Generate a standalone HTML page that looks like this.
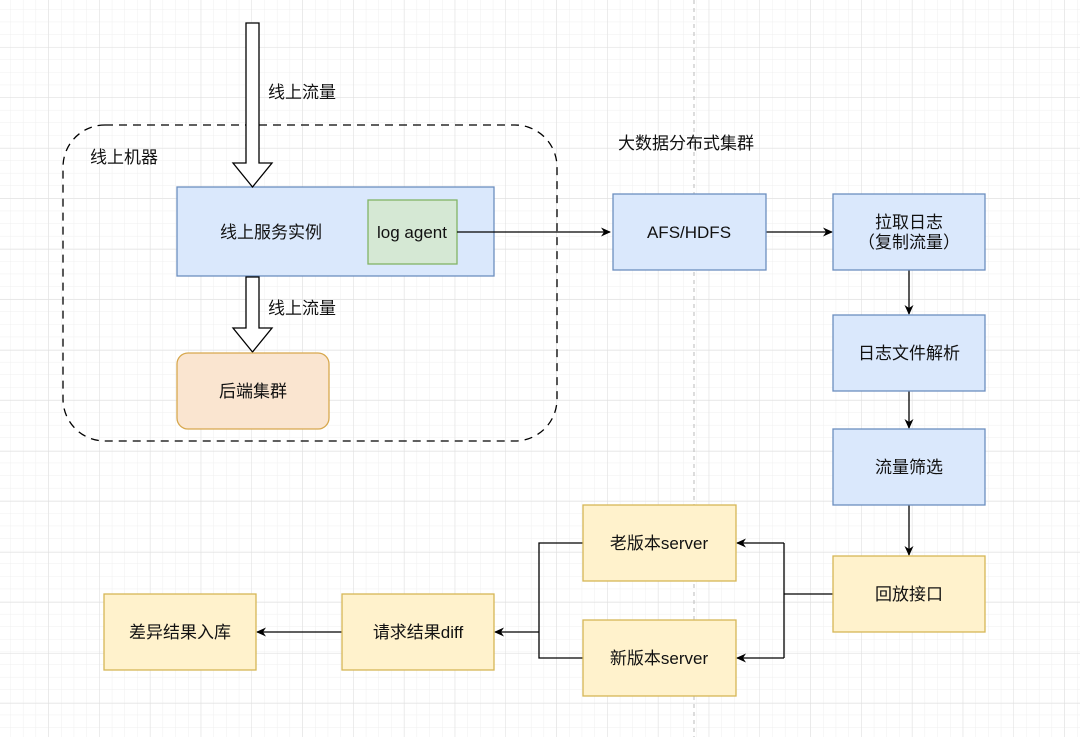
<!DOCTYPE html>
<html><head><meta charset="utf-8"><style>
html,body{margin:0;padding:0;background:#fff}
svg{display:block}
text{font-family:"Liberation Sans","Noto Sans CJK SC",sans-serif;font-size:17px;fill:#111}
</style></head><body>
<svg width="1080" height="737" viewBox="0 0 1080 737" xmlns="http://www.w3.org/2000/svg">
<defs>
<pattern id="minor" x="-2" y="-3" width="12.7" height="12.6" patternUnits="userSpaceOnUse">
<path d="M12.7 0V12.6M0 12.6H12.7" fill="none" stroke="#efefef" stroke-width="1"/>
</pattern>
<pattern id="major" x="-2" y="-3" width="50.8" height="50.5" patternUnits="userSpaceOnUse">
<path d="M50.8 0V50.5M0 50.5H50.8" fill="none" stroke="#dedede" stroke-width="1"/>
</pattern>
<marker id="ah" markerWidth="10" markerHeight="10" refX="9" refY="5" orient="auto" markerUnits="userSpaceOnUse">
<path d="M0,0.5 L10,5 L0,9.5 L3,5 Z" fill="#000"/>
</marker>
</defs>
<rect width="1080" height="737" fill="url(#minor)"/>
<rect width="1080" height="737" fill="url(#major)"/>
<line x1="694" y1="0" x2="694" y2="737" stroke="#bbb" stroke-dasharray="4 4"/>

<rect x="63" y="125" width="494" height="316" rx="42" fill="none" stroke="#000" stroke-width="1.3" stroke-dasharray="8 6"/>
<text x="90" y="163">线上机器</text>

<rect x="177" y="187" width="317" height="89" fill="#dae8fc" stroke="#6c8ebf" stroke-width="1.3"/>
<text x="271" y="238" text-anchor="middle">线上服务实例</text>
<rect x="368" y="200" width="89" height="64" fill="#d5e8d4" stroke="#82b366" stroke-width="1.3"/>
<text x="412" y="238" text-anchor="middle">log agent</text>

<path d="M246,23 H259 V163 H272 L252.5,187 L233,163 H246 Z" fill="#fff" stroke="#000" stroke-width="1.3"/>
<text x="268" y="98">线上流量</text>
<path d="M246,277 H259 V328 H272 L252.5,352 L233,328 H246 Z" fill="#fff" stroke="#000" stroke-width="1.3"/>
<text x="268" y="314">线上流量</text>

<rect x="177" y="353" width="152" height="76" rx="11" fill="#fae5d0" stroke="#d7a84e" stroke-width="1.3"/>
<text x="253" y="397" text-anchor="middle">后端集群</text>

<text x="618" y="149">大数据分布式集群</text>

<g stroke="#000" stroke-width="1.3" fill="none">
<line x1="457" y1="232" x2="610" y2="232" marker-end="url(#ah)"/>
<line x1="766" y1="232" x2="832" y2="232" marker-end="url(#ah)"/>
<line x1="909" y1="270" x2="909" y2="314" marker-end="url(#ah)"/>
<line x1="909" y1="391" x2="909" y2="428" marker-end="url(#ah)"/>
<line x1="909" y1="505" x2="909" y2="555" marker-end="url(#ah)"/>
<line x1="833" y1="594" x2="784" y2="594"/>
<path d="M784,543 V658"/>
<line x1="784" y1="543" x2="737" y2="543" marker-end="url(#ah)"/>
<line x1="784" y1="658" x2="737" y2="658" marker-end="url(#ah)"/>
<path d="M583,543 H539 V658 H583"/>
<line x1="539" y1="632" x2="495" y2="632" marker-end="url(#ah)"/>
<line x1="342" y1="632" x2="257" y2="632" marker-end="url(#ah)"/>
</g>

<g stroke-width="1.3">
<rect x="613" y="194" width="153" height="76" fill="#dae8fc" stroke="#6c8ebf"/>
<rect x="833" y="194" width="152" height="76" fill="#dae8fc" stroke="#6c8ebf"/>
<rect x="833" y="315" width="152" height="76" fill="#dae8fc" stroke="#6c8ebf"/>
<rect x="833" y="429" width="152" height="76" fill="#dae8fc" stroke="#6c8ebf"/>
<rect x="833" y="556" width="152" height="76" fill="#fff2cc" stroke="#d6b656"/>
<rect x="583" y="505" width="153" height="76" fill="#fff2cc" stroke="#d6b656"/>
<rect x="583" y="620" width="153" height="76" fill="#fff2cc" stroke="#d6b656"/>
<rect x="342" y="594" width="152" height="76" fill="#fff2cc" stroke="#d6b656"/>
<rect x="104" y="594" width="152" height="76" fill="#fff2cc" stroke="#d6b656"/>
</g>
<text x="689" y="238" text-anchor="middle">AFS/HDFS</text>
<text x="909" y="228" text-anchor="middle">拉取日志</text>
<text x="909" y="248" text-anchor="middle">（复制流量）</text>
<text x="909" y="359" text-anchor="middle">日志文件解析</text>
<text x="909" y="473" text-anchor="middle">流量筛选</text>
<text x="909" y="600" text-anchor="middle">回放接口</text>
<text x="659" y="549" text-anchor="middle">老版本server</text>
<text x="659" y="664" text-anchor="middle">新版本server</text>
<text x="418" y="638" text-anchor="middle">请求结果diff</text>
<text x="180" y="638" text-anchor="middle">差异结果入库</text>
</svg>
</body></html>
